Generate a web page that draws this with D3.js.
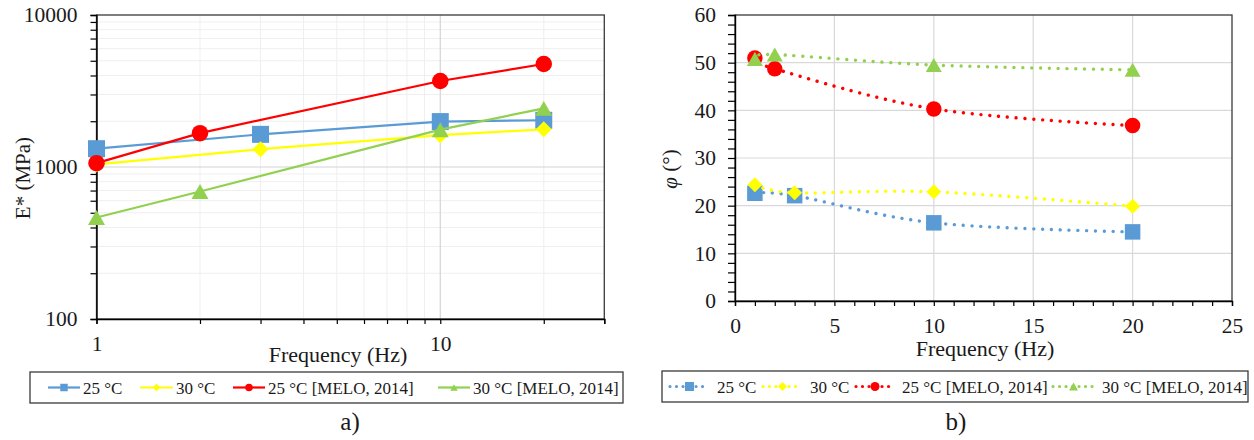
<!DOCTYPE html>
<html><head><meta charset="utf-8">
<script src="https://cdn.jsdelivr.net/npm/d3@7"></script>
<style>body{margin:0;background:#fff}svg{display:block}text{font-family:"Liberation Serif","Times New Roman",serif;fill:#1a1a1a}</style>
</head><body>
<script>
// ---------- data ----------
const seriesNames = ["25 °C", "30 °C", "25 °C [MELO, 2014]", "30 °C [MELO, 2014]"];
const freqThis = [1, 3, 10, 20];
const freqMelo = [1, 2, 10, 20];
const eStar25 = [1320, 1640, 1990, 2030];
const eStar30 = [1040, 1310, 1620, 1770];
const eStar25Melo = [1060, 1670, 3680, 4760];
const eStar30Melo = [465, 690, 1760, 2430];
const phi25 = [22.6, 22.1, 16.4, 14.5];
const phi30 = [24.4, 22.7, 22.9, 19.9];
const phi25Melo = [51.0, 48.7, 40.3, 36.8];
const phi30Melo = [50.8, 51.7, 49.5, 48.5];
const eTickLabels = [100, 1000, 10000];
const fLogTickLabels = [1, 10];
const phiTickLabels = [0, 10, 20, 30, 40, 50, 60];
const fLinTickLabels = [0, 5, 10, 15, 20, 25];
const panelLabels = ["a)", "b)"];

// ---------- styles ----------
const colors = ["#5B9BD5", "#FFFF00", "#FF0000", "#92D050"];
const shapes = ["square", "diamond", "circle", "triangle"];

const W = 1254, H = 440;
const svg = d3.select("body").append("svg").attr("width", W).attr("height", H);

function markerPath(shape, s) {
  const h = s / 2;
  if (shape === "square") return `M${-h},${-h}H${h}V${h}H${-h}Z`;
  if (shape === "diamond") return `M0,${-h}L${h},0L0,${h}L${-h},0Z`;
  if (shape === "triangle") { const th = s * 0.88 / 2; return `M0,${-th}L${h},${th}L${-h},${th}Z`; }
  return d3.arc()({innerRadius: 0, outerRadius: h, startAngle: 0, endAngle: 2 * Math.PI});
}
const markerSize = {square: 17, diamond: 16, circle: 16.5, triangle: 17};
const markerSizeB = {square: 15.5, diamond: 15, circle: 15.5, triangle: 16};

// ---------- panel a ----------
const xA = d3.scaleLog().domain([1, 30]).range([96.5, 604.3]);
const yA = d3.scaleLog().domain([100, 10000]).range([319, 15]);
const gA = svg.append("g");

const minorX = [2,3,4,5,6,7,8,9,20,30];
const minorY = [200,300,400,500,600,700,800,900,2000,3000,4000,5000,6000,7000,8000,9000];
gA.selectAll(".mgx").data(minorX).join("line")
  .attr("x1", d => xA(d)).attr("x2", d => xA(d)).attr("y1", yA(100)).attr("y2", yA(10000))
  .attr("stroke", "#efefef").attr("stroke-width", 1);
gA.selectAll(".mgy").data(minorY).join("line")
  .attr("x1", xA(1)).attr("x2", xA(30)).attr("y1", d => yA(d)).attr("y2", d => yA(d))
  .attr("stroke", "#efefef").attr("stroke-width", 1);
gA.append("line").attr("x1", xA(10)).attr("x2", xA(10)).attr("y1", yA(100)).attr("y2", yA(10000))
  .attr("stroke", "#d4d4d4").attr("stroke-width", 1.2);
gA.append("line").attr("x1", xA(1)).attr("x2", xA(30)).attr("y1", yA(1000)).attr("y2", yA(1000))
  .attr("stroke", "#d4d4d4").attr("stroke-width", 1.2);
gA.append("rect").attr("x", xA(1)).attr("y", yA(10000)).attr("width", xA(30) - xA(1)).attr("height", yA(100) - yA(10000))
  .attr("fill", "none").attr("stroke", "#3a3a3a").attr("stroke-width", 1.3);

const axYA = d3.axisLeft(yA).tickValues(eTickLabels.concat(minorY)).tickSize(6).tickPadding(13)
  .tickFormat(d => eTickLabels.includes(d) ? String(d) : "");
const gyA = gA.append("g").attr("transform", `translate(${xA(1)},0)`).call(axYA);
const axXA = d3.axisBottom(xA).tickValues(fLogTickLabels.concat(minorX)).tickSize(5).tickPadding(12)
  .tickFormat(d => fLogTickLabels.includes(d) ? String(d) : "");
const gxA = gA.append("g").attr("transform", `translate(0,${yA(100)})`).call(axXA);
[gyA, gxA].forEach(g => {
  g.attr("font-family", null);
  g.select(".domain").attr("stroke", "#000").attr("stroke-width", 1.4);
  g.selectAll(".tick line").attr("stroke", "#000").attr("stroke-width", 1.2);
  g.selectAll(".tick text").style("font-family", "Liberation Serif, serif").style("font-size", "21.5px").attr("fill", "#1a1a1a");
});

const dataA = [
  {x: freqThis, y: eStar25}, {x: freqThis, y: eStar30},
  {x: freqMelo, y: eStar25Melo}, {x: freqMelo, y: eStar30Melo}
];
const lineA = d3.line().x(d => xA(d[0])).y(d => yA(d[1]));
dataA.forEach((s, i) => {
  const pts = s.x.map((x, j) => [x, s.y[j]]);
  gA.append("path").attr("d", lineA(pts)).attr("fill", "none").attr("stroke", colors[i]).attr("stroke-width", 2.2);
  gA.selectAll(null).data(pts).join("path")
    .attr("transform", d => `translate(${xA(d[0])},${yA(d[1])})`)
    .attr("d", markerPath(shapes[i], markerSize[shapes[i]])).attr("fill", colors[i]);
});

gA.append("text").attr("transform", "translate(30,178) rotate(-90)").attr("text-anchor", "middle")
  .style("font-size", "21px").text("E* (MPa)");
gA.append("text").attr("x", 338).attr("y", 362).attr("text-anchor", "middle")
  .style("font-size", "22px").text("Frequency (Hz)");

// ---------- panel b ----------
const xB = d3.scaleLinear().domain([0, 25]).range([735, 1232]);
const yB = d3.scaleLinear().domain([0, 60]).range([301, 15]);
const gB = svg.append("g");
gB.selectAll(".gx").data([5, 10, 15, 20]).join("line")
  .attr("x1", d => xB(d)).attr("x2", d => xB(d)).attr("y1", yB(0)).attr("y2", yB(60))
  .attr("stroke", "#d9d9d9").attr("stroke-width", 1.2);
gB.selectAll(".gy").data([10, 20, 30, 40, 50]).join("line")
  .attr("x1", xB(0)).attr("x2", xB(25)).attr("y1", d => yB(d)).attr("y2", d => yB(d))
  .attr("stroke", "#d9d9d9").attr("stroke-width", 1.2);
gB.append("rect").attr("x", xB(0)).attr("y", yB(60)).attr("width", xB(25) - xB(0)).attr("height", yB(0) - yB(60))
  .attr("fill", "none").attr("stroke", "#3a3a3a").attr("stroke-width", 1.3);

const axYB = d3.axisLeft(yB).tickValues(d3.range(0, 61, 2)).tickSize(7).tickPadding(12)
  .tickFormat(d => phiTickLabels.includes(d) ? String(d) : "");
const gyB = gB.append("g").attr("transform", `translate(${xB(0)},0)`).call(axYB);
const axXB = d3.axisBottom(xB).tickValues(d3.range(0, 26, 1)).tickSize(5).tickPadding(12)
  .tickFormat(d => fLinTickLabels.includes(d) ? String(d) : "");
const gxB = gB.append("g").attr("transform", `translate(0,${yB(0)})`).call(axXB);
[gyB, gxB].forEach(g => {
  g.attr("font-family", null);
  g.select(".domain").attr("stroke", "#000").attr("stroke-width", 1.4);
  g.selectAll(".tick line").attr("stroke", "#000").attr("stroke-width", 1.2);
  g.selectAll(".tick text").style("font-family", "Liberation Serif, serif").style("font-size", "21.5px").attr("fill", "#1a1a1a");
});

const dataB = [
  {x: freqThis, y: phi25}, {x: freqThis, y: phi30},
  {x: freqMelo, y: phi25Melo}, {x: freqMelo, y: phi30Melo}
];
const lineB = d3.line().x(d => xB(d[0])).y(d => yB(d[1])).curve(d3.curveCardinal.tension(0));
dataB.forEach((s, i) => {
  const pts = s.x.map((x, j) => [x, s.y[j]]);
  gB.append("path").attr("d", lineB(pts)).attr("fill", "none").attr("stroke", colors[i])
    .attr("stroke-width", 3.4).attr("stroke-linecap", "round").attr("stroke-dasharray", "0.01 8.8");
  gB.selectAll(null).data(pts).join("path")
    .attr("transform", d => `translate(${xB(d[0])},${yB(d[1])})`)
    .attr("d", markerPath(shapes[i], markerSizeB[shapes[i]])).attr("fill", colors[i]);
});

const yt = gB.append("text").attr("transform", "translate(677,169) rotate(-90)").attr("text-anchor", "middle")
  .style("font-size", "21px");
yt.append("tspan").style("font-style", "italic").text("φ");
yt.append("tspan").text(" (°)");
gB.append("text").attr("x", 985).attr("y", 356).attr("text-anchor", "middle")
  .style("font-size", "22px").text("Frequency (Hz)");

// ---------- legends ----------
function legend(box, itemX, textX, dotted) {
  const g = svg.append("g");
  g.append("rect").attr("x", box[0]).attr("y", box[1]).attr("width", box[2]).attr("height", box[3])
    .attr("fill", "#fff").attr("stroke", "#3a3a3a").attr("stroke-width", 1.3);
  const cy = box[1] + box[3] / 2;
  seriesNames.forEach((name, i) => {
    const x0 = itemX[i], x1 = textX[i] - (dotted ? 8 : 3);
    const ln = g.append("line").attr("x1", x0).attr("x2", x1).attr("y1", cy).attr("y2", cy)
      .attr("stroke", colors[i]);
    if (dotted) ln.attr("stroke-width", 3.2).attr("stroke-linecap", "round").attr("stroke-dasharray", "0.01 6.5");
    else ln.attr("stroke-width", 2.2);
    g.append("path").attr("transform", `translate(${(x0 + x1) / 2},${cy})`)
      .attr("d", markerPath(shapes[i], dotted ? 9 : 7.5)).attr("fill", colors[i]);
    g.append("text").attr("x", textX[i]).attr("y", cy + 6).style("font-size", "17px").text(name);
  });
}
legend([30, 372, 593, 31], [48, 140, 233, 438], [83, 176, 268, 473], false);
legend([662, 371, 586, 31], [670, 763, 856, 1053], [717, 810, 902, 1102], true);

svg.append("text").attr("x", 350).attr("y", 430).attr("text-anchor", "middle").style("font-size", "25px").text(panelLabels[0]);
svg.append("text").attr("x", 956).attr("y", 430).attr("text-anchor", "middle").style("font-size", "25px").text(panelLabels[1]);
</script>
</body></html>
